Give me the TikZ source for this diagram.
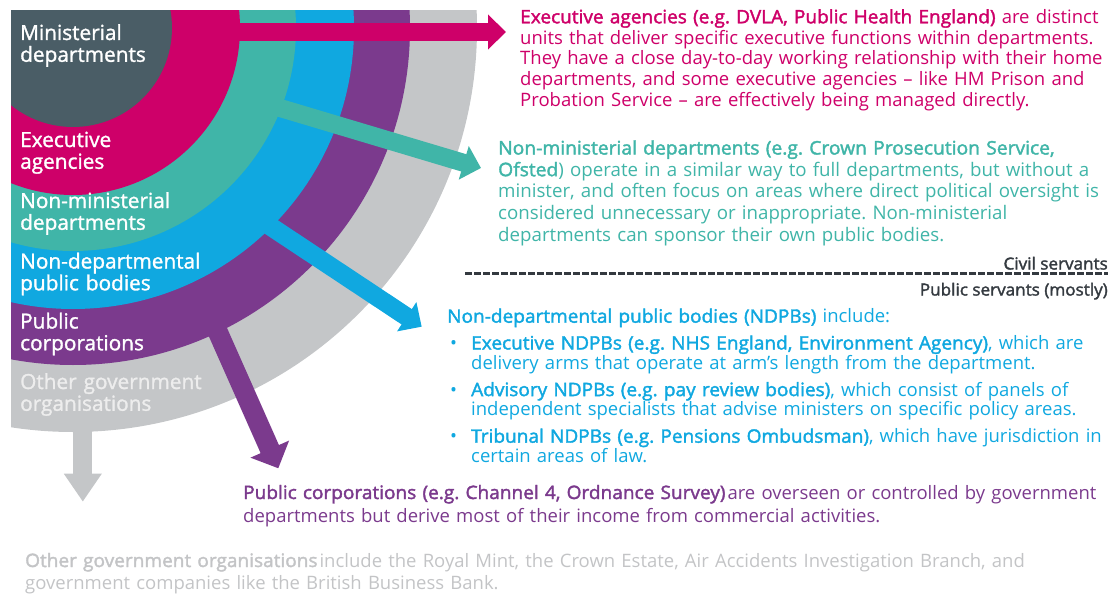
\documentclass[tikz,border=0pt]{standalone}
\usepackage{fontspec}
\setmainfont{Open Sans}
\newfontfamily\semib[FakeBold=2,FakeStretch=1.03]{Open Sans}
\newfontfamily\lblfont[FakeBold=1.4]{Open Sans}
\newcommand\semi[1]{{\semib #1}}
\usetikzlibrary{arrows.meta}
\definecolor{cMin}{HTML}{4A5D66}
\definecolor{cMag}{HTML}{CE0069}
\definecolor{cTeal}{HTML}{40B5A8}
\definecolor{cBlue}{HTML}{10A8E0}
\definecolor{cPurp}{HTML}{7B3A8D}
\definecolor{cGray}{HTML}{C4C6C8}
\definecolor{cOtherLbl}{HTML}{EDEDED}
\definecolor{cOtherTxt}{HTML}{C3C4C6}
\definecolor{cDark}{HTML}{343A40}
\tikzset{
  ringlbl/.style={anchor=base west, inner sep=0pt, text width=300pt, align=left, text=white,
    font=\lblfont\fontsize{20.8}{21.8}\selectfont},
  para/.style={anchor=base west, inner sep=0pt, text width=720pt, align=left,
    font=\frenchspacing\fontsize{18.5}{20.8}\selectfont},
  sidelbl/.style={anchor=base east, inner sep=0pt, text=cDark,
    font=\semib\fontsize{16.6}{19}\selectfont},
  blockarrow/.style={line width=18pt, -{Triangle[length=18pt,width=34pt]}},
}
\begin{document}
\begin{tikzpicture}[x=1pt,y=-1pt]
\useasboundingbox (0,0) rectangle (1114,594);
\coordinate (c) at (73,28);
% rings
\begin{scope}
\clip (11,11) rectangle (700,700);
\fill[cGray] (c) circle[radius=404];
\fill[cPurp] (c) circle[radius=337];
\fill[cBlue] (c) circle[radius=281];
\fill[cTeal] (c) circle[radius=223];
\fill[cMag]  (c) circle[radius=167];
\fill[cMin]  (c) circle[radius=99];
\end{scope}
% ring labels
\node[ringlbl] (lmin) at (20,40) {Ministerial\\departments};
\node[ringlbl] (lexe) at (20,147) {Executive\\agencies};
\node[ringlbl] (lnmd) at (20,208) {Non-ministerial\\departments};
\node[ringlbl] (lndp) at (20,268.5) {Non-departmental\\public bodies};
\node[ringlbl] (lpub) at (20,328.5) {Public\\corporations};
\node[ringlbl, text=cOtherLbl] (loth) at (20,389) {Other government\\organisations};
% arrow coordinates
\coordinate (magS) at (215,32);   \coordinate (magT) at (506,32);
\coordinate (teaS) at (260.7,102.2); \coordinate (teaT) at (481,168);
\coordinate (bluS) at (254.9,216.1); \coordinate (bluT) at (421.7,326.7);
\coordinate (purS) at (209.4,312.9); \coordinate (purT) at (278.3,468.3);
\coordinate (graS) at (82.8,415);  \coordinate (graT) at (82.8,501.7);
% arrows
\draw[blockarrow, cMag] (magS) -- (magT);
\draw[blockarrow, cTeal] (teaS) -- (teaT);
\draw[blockarrow, cBlue, line width=18.5pt] (bluS) -- (bluT);
\draw[cPurp, line width=20pt, -{Triangle[length=21pt,width=41pt]}] (purS) -- (purT);
\draw[cGray, line width=19pt, -{Triangle[length=28pt,width=36pt]}] (graS) -- (graT);
% texts
\node[para, text=cMag] (exec) at (520,23.3) {\semi{Executive agencies (e.g. DVLA, Public Health England)} are distinct\\
units that deliver specific executive functions within departments.\\
They have a close day-to-day working relationship with their home\\
departments, and some executive agencies – like HM Prison and\\
Probation Service – are effectively being managed directly.};
\node[para, text=cTeal, font=\frenchspacing\fontsize{18.7}{21.7}\selectfont] (nonmin) at (498,154.5) {\semi{Non-ministerial departments (e.g. Crown Prosecution Service,}\\
\semi{Ofsted}) operate in a similar way to full departments, but without a\\
minister, and often focus on areas where direct political oversight is\\
considered unnecessary or inappropriate. Non-ministerial\\
departments can sponsor their own public bodies.};
\node[sidelbl] (civil) at (1108,269.5) {Civil servants};
\node[sidelbl] (public) at (1108,295.5) {Public servants (mostly)};
\coordinate (dashL) at (465,273.5);
\coordinate (dashR) at (1108,273.5);
\draw[cDark, line width=3pt, dash pattern=on 6.5pt off 2.5pt] (dashL) -- (dashR);
\node[para, text=cBlue] (ndpb) at (447,322.7) {\semi{Non-departmental public bodies (NDPBs)} include:\\[6pt]
\hspace*{3pt}\makebox[21pt][l]{•}\semi{Executive NDPBs (e.g. NHS England, Environment Agency)}, which are\\[-1pt]
\hspace*{24pt}delivery arms that operate at arm’s length from the department.\\[6pt]
\hspace*{3pt}\makebox[21pt][l]{•}\semi{Advisory NDPBs (e.g. pay review bodies)}, which consist of panels of\\[-1pt]
\hspace*{24pt}independent specialists that advise ministers on specific policy areas.\\[6pt]
\hspace*{3pt}\makebox[21pt][l]{•}\semi{Tribunal NDPBs (e.g. Pensions Ombudsman)}, which have jurisdiction in\\[-1pt]
\hspace*{24pt}certain areas of law.};
\node[para, text=cPurp, text width=900pt, font=\frenchspacing\fontsize{18.5}{23}\selectfont] (pubcorp) at (243,499) {\semi{Public corporations (e.g. Channel 4, Ordnance Survey)}\hspace{2pt}are overseen or controlled by government\\
departments but derive most of their income from commercial activities.};
\node[para, text=cOtherTxt, text width=1050pt, font=\frenchspacing\fontsize{18.5}{22}\selectfont] (other) at (25,567) {\semi{Other government organisations}\hspace{2pt}include the Royal Mint, the Crown Estate, Air Accidents Investigation Branch, and\\
government companies like the British Business Bank.};
\end{tikzpicture}
\end{document}
